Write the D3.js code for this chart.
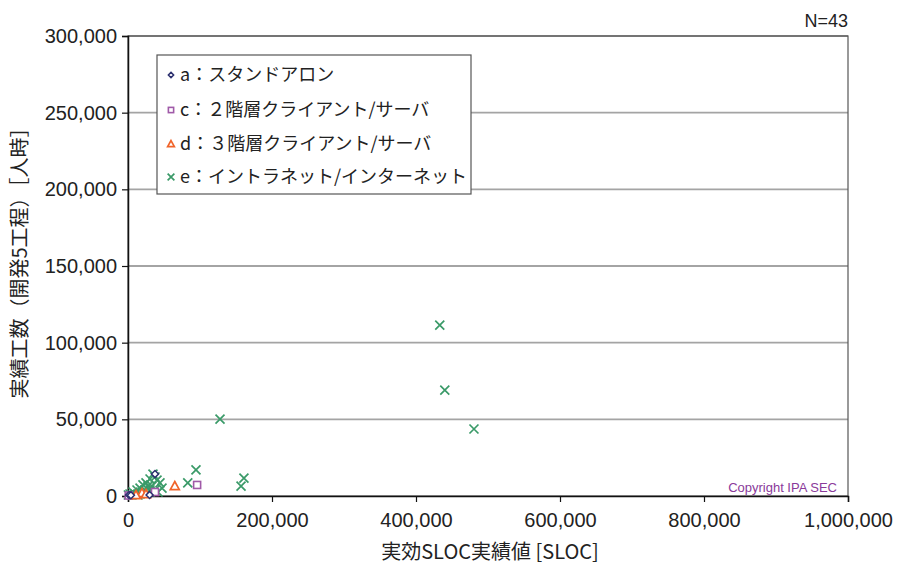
<!DOCTYPE html>
<html><head><meta charset="utf-8">
<script src="https://cdn.jsdelivr.net/npm/d3@7"></script>
<style>body{margin:0;background:#fff}svg{display:block}</style>
</head><body><svg id="c" width="902" height="568"></svg>
<script>
const seriesNames = ["a：スタンドアロン","c：２階層クライアント/サーバ","d：３階層クライアント/サーバ","e：イントラネット/インターネット"];
const aX = [37500,1500,4000,30000];
const aY = [14300,650,500,700];
const cX = [96000,37500,1000];
const cY = [7200,2600,300];
const dX = [65000,19400,25000,11100];
const dY = [6500,2000,1300,650];
const eX = [433000,440000,480500,127800,94400,83000,161000,157000,
  34700,37500,40300,44400,47200,30600,25000,20800,16700,12500,6900,2800,500,9700,23600,30600,37500,27800,41700,16700,5500,33300,20800,13900];
const eY = [111500,69100,43700,50200,17000,8500,11700,6500,
  14300,12400,10400,8500,5200,11100,8500,7200,5200,3900,2600,1300,650,1300,3900,3900,3900,6500,2600,1300,650,6500,2000,650];
const xTicks = [0,200000,400000,600000,800000,1000000];
const yTicks = [0,50000,100000,150000,200000,250000,300000];

const svg = d3.select("#c");
const L=128,R=848,T=36,B=496;
const x = d3.scaleLinear().domain([0,1000000]).range([L,R]);
const y = d3.scaleLinear().domain([0,300000]).range([B,T]);
const fmt = d3.format(",");
const font = "'Liberation Sans', Arial, 'Noto Sans CJK JP', sans-serif";
const jfont = "'Noto Sans CJK JP', sans-serif";

// gridlines
svg.append("g").selectAll("line").data(yTicks.filter(d=>d>0)).join("line")
  .attr("x1",L).attr("x2",R).attr("y1",d=>y(d)).attr("y2",d=>y(d))
  .attr("stroke","#a4a4a4").attr("stroke-width",1.8);
// plot border
svg.append("rect").attr("x",L).attr("y",T).attr("width",R-L).attr("height",B-T)
  .attr("fill","none").attr("stroke","#555").attr("stroke-width",1.2);

// axes
const yAxis = svg.append("g").attr("transform",`translate(${L},0)`)
  .call(d3.axisLeft(y).tickValues(yTicks).tickFormat(fmt).tickSize(6).tickPadding(5));
const xAxis = svg.append("g").attr("transform",`translate(0,${B})`)
  .call(d3.axisBottom(x).tickValues(xTicks).tickFormat(fmt).tickSize(6).tickPadding(11));
[yAxis,xAxis].forEach(g=>{
  g.select(".domain").attr("stroke","#111").attr("stroke-width",1.5);
  g.selectAll(".tick line").attr("stroke","#111").attr("stroke-width",1.2);
  g.selectAll("text").attr("font-family",font).attr("font-size",20).attr("fill","#222");
});

// legend
const lg = svg.append("g");
lg.append("rect").attr("x",157).attr("y",55).attr("width",314).attr("height",139)
  .attr("fill","#fff").attr("stroke","#555").attr("stroke-width",1.2);

const colors = ["#2b2f6e","#a05aa8","#f0642a","#3a9a68"];
function drawMarker(g,i,cx,cy,s){
  const c=colors[i];
  if(i===0){
    const r=3.5*s;
    g.append("path").attr("d",`M${cx},${cy-r}L${cx+r},${cy}L${cx},${cy+r}L${cx-r},${cy}Z`)
      .attr("fill","#fff").attr("stroke",c).attr("stroke-width",1.5);
  } else if(i===1){
    const r=3.5*s;
    g.append("rect").attr("x",cx-r).attr("y",cy-r).attr("width",2*r).attr("height",2*r)
      .attr("fill","#fff").attr("stroke",c).attr("stroke-width",1.6);
  } else if(i===2){
    const r=4.5*s;
    g.append("path").attr("d",`M${cx},${cy-r}L${cx+r},${cy+r*0.8}L${cx-r},${cy+r*0.8}Z`)
      .attr("fill","#fff").attr("stroke",c).attr("stroke-width",1.7);
  } else {
    const r=4.5*s;
    g.append("path").attr("d",`M${cx-r},${cy-r}L${cx+r},${cy+r}M${cx-r},${cy+r}L${cx+r},${cy-r}`)
      .attr("stroke",c).attr("stroke-width",1.7).attr("fill","none");
  }
}
const legY=[75,110,144,177];
seriesNames.forEach((n,i)=>{
  drawMarker(lg,i,171,legY[i],0.75);
  lg.append("text").attr("x",180).attr("y",legY[i]).attr("dy","0.36em")
    .attr("font-family",jfont).attr("font-size",18).attr("fill","#222").text(n);
});

// points
const pts = svg.append("g");
const series = [[aX,aY],[cX,cY],[dX,dY],[eX,eY]];
[3,1,2,0].forEach(i=>{
  const [xs,ys]=series[i];
  xs.forEach((v,k)=>drawMarker(pts,i,x(v),y(ys[k]),1));
});

// texts
svg.append("text").attr("x",848).attr("y",27).attr("text-anchor","end")
  .attr("font-family",font).attr("font-size",18).attr("fill","#222").text("N=43");
svg.append("text").attr("x",837).attr("y",492).attr("text-anchor","end")
  .attr("font-family",font).attr("font-size",13).attr("fill","#8a3a9a").text("Copyright IPA SEC");
svg.append("text").attr("x",490).attr("y",559).attr("text-anchor","middle")
  .attr("font-family",jfont).attr("font-size",20).attr("fill","#222").text("実効SLOC実績値 [SLOC]");
svg.append("text").attr("transform","translate(27,258) rotate(-90)").attr("text-anchor","middle")
  .attr("font-family",jfont).attr("font-size",20).attr("fill","#222").text("実績工数（開発5工程）［人時］");
</script></body></html>
